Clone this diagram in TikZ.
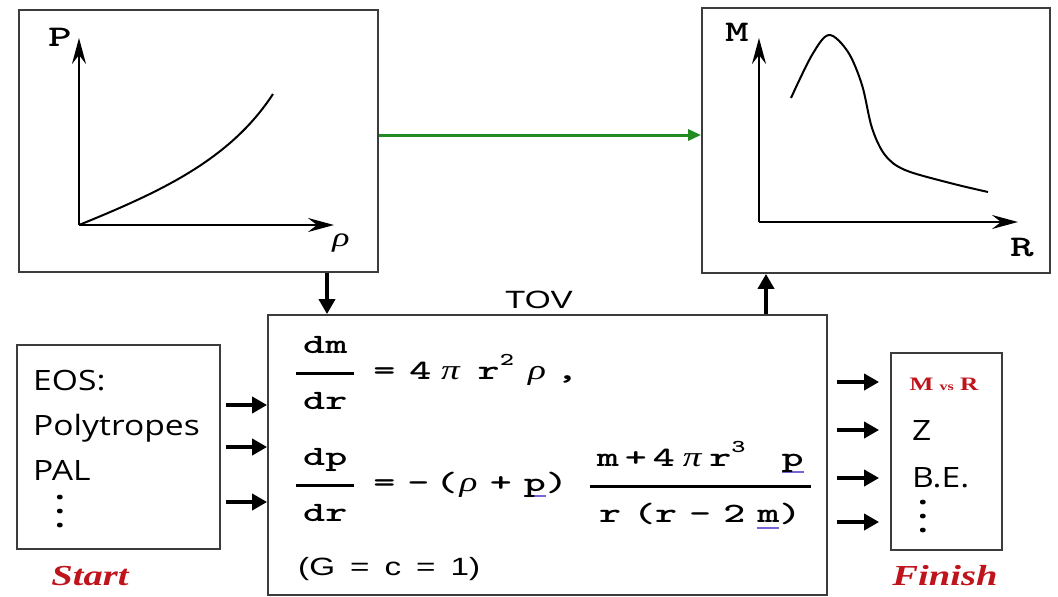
\documentclass[tikz,border=0pt]{standalone}
\usepackage{fontspec}
\usepackage{tikz}
\usetikzlibrary{arrows.meta, positioning}
\setmainfont{Liberation Sans}
\newfontfamily\slidesans[FakeStretch=1.33]{Liberation Sans}
\newfontfamily\slidemono[FakeStretch=1.5]{lmmonolt10-bold.otf}
\newfontfamily\slideserif[FakeStretch=1.33]{Liberation Serif}
\newfontfamily\slidehand[FakeStretch=1.2]{Open Sans}
\definecolor{boxgray}{HTML}{3C3C3C}
\definecolor{flowgreen}{HTML}{228B22}
\definecolor{tagred}{HTML}{C0141C}
\definecolor{spellblue}{HTML}{7466D6}

% fraction with a thick bar, #1 = side padding
\newcommand{\monofrac}[3]{{\setlength{\arrayrulewidth}{3pt}\renewcommand{\arraystretch}{0}%
  \begin{tabular}{@{\hspace{#1}}c@{\hspace{#1}}}\rule[-18pt]{0pt}{38pt}#2\\\hline\rule[-3pt]{0pt}{38pt}#3\end{tabular}}}
% greek letter in a mono cell
\newcommand{\gk}[1]{\makebox[22.3pt][c]{\slideserif\itshape #1}}
% raised exponent
\newcommand{\expo}[1]{\raisebox{14pt}{\fontsize{18}{18}\selectfont #1}}
% spell-check underline
\newcommand{\spellmark}[1]{\setbox0\hbox{#1}\rlap{\color{spellblue}\rule[-6pt]{\wd0}{2pt}}\box0}
% vertical ellipsis made of three full stops
\newcommand{\dotstack}{\vbox{\baselineskip=14pt\lineskiplimit=-20pt\hbox{.}\hbox{.}\hbox{.}}}

\tikzset{
  % framed boxes
  panel/.style={rectangle, draw=boxgray, line width=1.8pt, fill=white, inner sep=0pt},
  % plot axes and curves
  axisline/.style={-{Stealth[length=26pt, width=14pt, inset=9pt]}, line width=2.4pt},
  curveline/.style={line width=2pt},
  % arrows
  fatarrow/.style={-{Triangle[length=15pt, width=16pt]}, line width=4pt},
  greenarrow/.style={-{Triangle[length=13pt, width=11pt]}, line width=3pt, draw=flowgreen},
  % texts
  eqtext/.style={font=\slidemono\fontsize{28}{32}\selectfont, inner sep=0pt},
  sanstext/.style={font=\slidesans\fontsize{25}{30}\selectfont, inner sep=0pt},
  handtext/.style={font=\slidehand\fontsize{28}{34}\selectfont, inner sep=0pt},
  axislabel/.style={font=\slidemono\fontsize{30}{34}\selectfont, inner sep=0pt},
  taglabel/.style={font=\slideserif\bfseries\itshape\fontsize{29}{34}\selectfont, text=tagred, inner sep=0pt},
  dotcol/.style={font=\slidehand\bfseries\fontsize{28}{34}\selectfont, inner sep=0pt},
}

\begin{document}
\begin{tikzpicture}[x=1pt, y=-1pt]
  \useasboundingbox (0,0) rectangle (1058,597);

  % P(rho) plot
  \node[panel, minimum width=359pt, minimum height=262pt] (eosplot) at (198.5,141) {};
  \coordinate (eoso) at (79,225);
  \coordinate (eosy) at (79,38);
  \coordinate (eosx) at (334,225);
  \draw[axisline] (eoso) -- (eosy);
  \draw[axisline] (eoso) -- (eosx);
  \draw[curveline] (eoso) .. controls (160,192) and (230,160) .. (273,94);
  \node[axislabel] (plabel) at (60,37) {P};
  \node[font=\slideserif\itshape\fontsize{27}{30}\selectfont, inner sep=0pt] (rholabel) at (341,243) {ρ};

  % M(R) plot
  \node[panel, minimum width=348pt, minimum height=265pt] (mrplot) at (876,140.5) {};
  \coordinate (mro) at (759,222);
  \coordinate (mry) at (759,38);
  \coordinate (mrx) at (1018,222);
  \draw[axisline] (mro) -- (mry);
  \draw[axisline] (mro) -- (mrx);
  \draw[curveline] plot[smooth, tension=0.55] coordinates {(791,98) (812,55) (829,35) (848,52)
    (862,85) (872,128) (885,155) (905,170) (950,183) (988,192)};
  \node[axislabel] (mlabel) at (737,32) {M};
  \node[axislabel] (rlabel) at (1022,247) {R};

  \draw[greenarrow] (eosplot.east |- 0,135) -- (mrplot.west |- 0,135);

  % TOV equations
  \node[panel, minimum width=559pt, minimum height=280pt] (tov) at (547.5,455) {};
  \node[sanstext, anchor=base] (tovtitle) at (539,308) {TOV};
  \draw[fatarrow] (eosplot.south -| 327,0) -- (tov.north -| 327,0);
  \draw[fatarrow] (tov.north -| 766,0) -- (mrplot.south -| 766,0);

  \node[eqtext, anchor=west] (masseq) at (296,373)
    {\monofrac{7pt}{dm}{dr}\hspace{19pt}=\hspace{14pt}4\hspace{8pt}\gk{π}\hspace{16pt}r\expo{2}\hspace{12pt}\gk{ρ}\hspace{8pt},};
  \node[eqtext, anchor=west] (presseq) at (296,485)
    {\monofrac{7pt}{dp}{dr}\hspace{19pt}=\hspace{12pt}-\hspace{6pt}(\gk{ρ}\hspace{10pt}+\hspace{12pt}\spellmark{p})\hspace{22pt}%
     \monofrac{7pt}{m\hspace{6pt}+\hspace{6pt}4\hspace{6pt}\gk{π}\hspace{6pt}r\expo{3}\hspace{36pt}\spellmark{p}}%
     {r\hspace{12pt}(r\hspace{12pt}-\hspace{12pt}2\hspace{12pt}\spellmark{m})}};
  \node[sanstext, anchor=base west] (units) at (298,575)
    {(G\hspace{15pt}=\hspace{15pt}c\hspace{15pt}=\hspace{15pt}1)};

  % start: equations of state
  \node[panel, minimum width=203pt, minimum height=204pt] (eos) at (118.5,447) {};
  \node[handtext, anchor=base west] (eosname) at (33,390) {EOS:};
  \node[handtext, anchor=base west] (eospoly) at (33,435) {Polytropes};
  \node[handtext, anchor=base west] (eospal) at (33,480) {PAL};
  \node[dotcol] (eosdots) at (60,512) {\dotstack};
  \node[taglabel, anchor=base] (start) at (90,585) {Start};
  \foreach \yy in {405,447,502}
    \draw[fatarrow, shorten <=5pt] (eos.east |- 0,\yy) -- (tov.west |- 0,\yy);

  % finish: observables
  \node[panel, minimum width=111pt, minimum height=197pt] (finish) at (946.5,451.5) {};
  \node[font=\slideserif\bfseries\fontsize{19}{22}\selectfont, text=tagred, inner sep=0pt, anchor=base] (mvsr) at (944,390)
    {M {\fontsize{12}{14}\selectfont vs} R};
  \node[handtext, anchor=base west] (zred) at (912,440) {Z};
  \node[handtext, anchor=base west] (bind) at (912,487) {B.E.};
  \node[dotcol] (findots) at (923,517) {\dotstack};
  \node[taglabel, anchor=base] (finishtag) at (945,585) {Finish};
  \foreach \yy in {382,430,478,522}
    \draw[fatarrow, shorten <=9pt, shorten >=11pt] (tov.east |- 0,\yy) -- (finish.west |- 0,\yy);
\end{tikzpicture}
\end{document}
